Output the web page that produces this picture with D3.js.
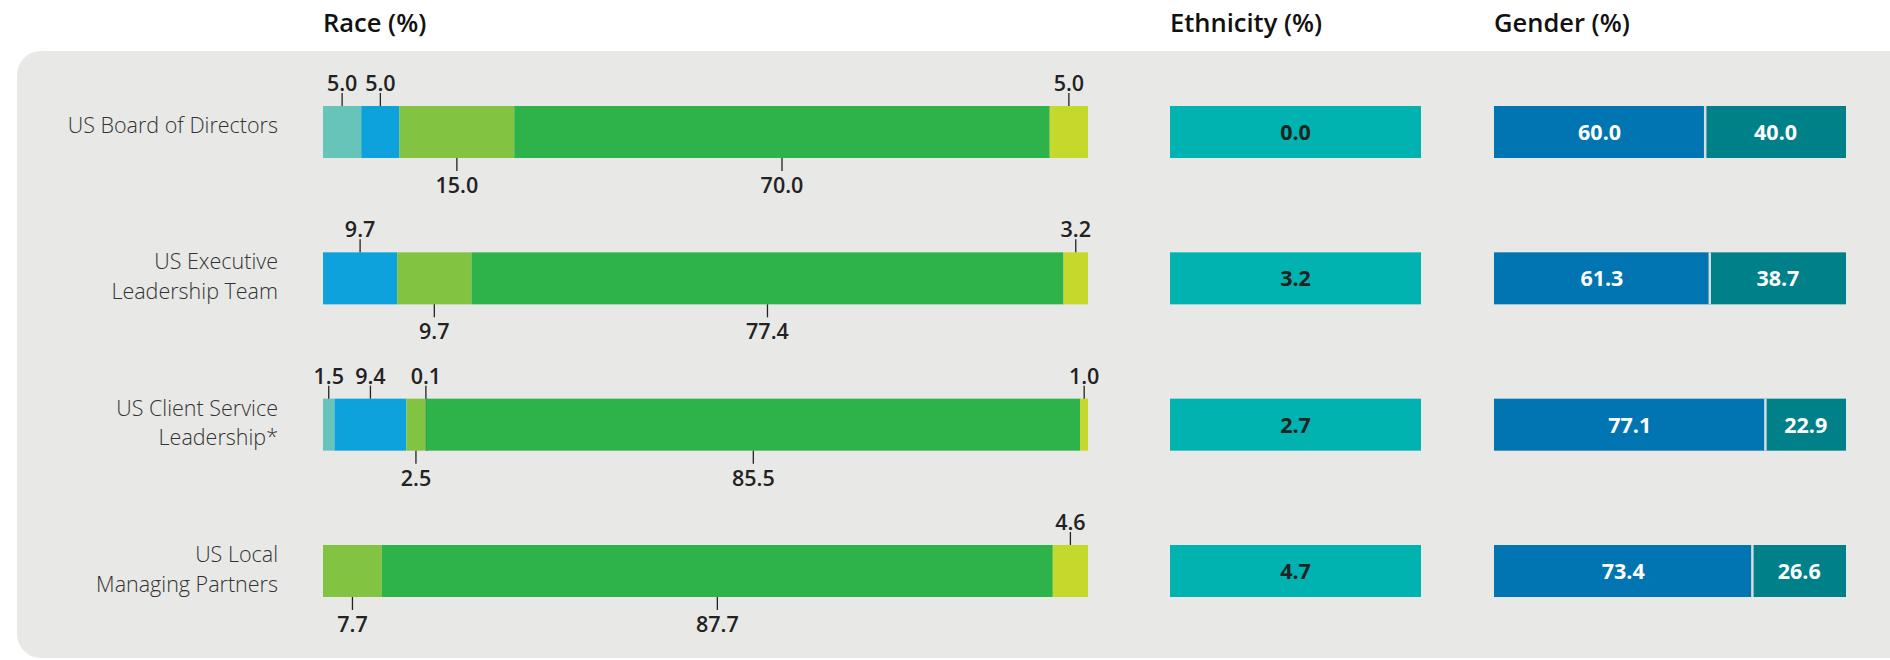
<!DOCTYPE html>
<html>
<head>
<meta charset="utf-8">
<script src="https://cdn.jsdelivr.net/npm/d3@7/dist/d3.min.js"></script>
<style>
  html, body { margin: 0; padding: 0; background: #ffffff; }
  svg { display: block; font-family: "Open Sans", "Noto Sans", sans-serif; }
</style>
</head>
<body>
<svg id="chart" width="1890" height="660"></svg>
<script>
// ---- Data ----
const groups = [
  ["US Board of Directors"],
  ["US Executive", "Leadership Team"],
  ["US Client Service", "Leadership*"],
  ["US Local", "Managing Partners"]
];
const raceCategories = ["teal", "blue", "lightGreen", "darkGreen", "green", "yellow"];
const raceTeal      = [5.0, 0.0, 1.5, 0.0];
const raceBlue      = [5.0, 9.7, 9.4, 0.0];
const raceLightGreen= [15.0, 9.7, 2.5, 7.7];
const raceDarkGreen = [0.0, 0.0, 0.1, 0.0];
const raceGreen     = [70.0, 77.4, 85.5, 87.7];
const raceYellow    = [5.0, 3.2, 1.0, 4.6];
const ethnicity     = [0.0, 3.2, 2.7, 4.7];
const genderA       = [60.0, 61.3, 77.1, 73.4];
const genderB       = [40.0, 38.7, 22.9, 26.6];
const panelTitles   = ["Race (%)", "Ethnicity (%)", "Gender (%)"];

// ---- Styles ----
const raceColors = {
  teal: "#66c5b8", blue: "#0ea2dc", lightGreen: "#82c341",
  darkGreen: "#26923e", green: "#2eb34b", yellow: "#c5d92d"
};
const labelAbove = { teal: true, blue: true, darkGreen: true, yellow: true, lightGreen: false, green: false };
const ethColor = "#00b3b0";
const genColors = ["#0075b2", "#008089"];

const svg = d3.select("#chart");
const fmt = d3.format(".1f");

// background panel (rounded left corners, extends past right edge)
svg.append("rect")
  .attr("x", 17).attr("y", 51).attr("width", 1960).attr("height", 607)
  .attr("rx", 24).attr("ry", 24)
  .attr("fill", "#e8e8e6");

// scales
const y = d3.scalePoint().domain(d3.range(groups.length)).range([132, 571]);
const barH = 52;
const xRace = d3.scaleLinear().domain([0, 100]).range([323, 1088]);
const xEth0 = 1170, xEth1 = 1421;
const xGen = d3.scaleLinear().domain([0, 100]).range([1494, 1846]);

// titles
const titleX = [xRace(0), xEth0, xGen(0)];
svg.selectAll("text.title").data(panelTitles).join("text")
  .attr("class", "title")
  .attr("x", (d, i) => titleX[i]).attr("y", 32)
  .attr("font-size", 25.5).attr("font-weight", 600).attr("fill", "#111")
  .text(d => d);

// category labels
groups.forEach((lines, i) => {
  const cy = y(i);
  const t = svg.append("text")
    .attr("text-anchor", "end").attr("font-size", 21.5).attr("font-weight", 300)
    .attr("fill", "#333");
  if (lines.length === 1) {
    t.append("tspan").attr("x", 278).attr("y", cy + 1).text(lines[0]);
  } else {
    lines.forEach((l, k) => {
      t.append("tspan").attr("x", 278).attr("y", cy - 9 + k * 29.5).text(l);
    });
  }
});

// race stacked bars
const raceSeries = {
  teal: raceTeal, blue: raceBlue, lightGreen: raceLightGreen,
  darkGreen: raceDarkGreen, green: raceGreen, yellow: raceYellow
};
const table = groups.map((g, i) => {
  const row = { idx: i };
  raceCategories.forEach(c => row[c] = raceSeries[c][i]);
  return row;
});
const stack = d3.stack().keys(raceCategories)(table);

stack.forEach(layer => {
  const key = layer.key;
  layer.forEach((seg, i) => {
    const v = seg[1] - seg[0];
    if (v <= 0) return;
    const top = y(i) - barH / 2, bot = y(i) + barH / 2;
    const x0 = xRace(seg[0]), x1 = xRace(seg[1]);
    svg.append("rect")
      .attr("x", x0).attr("y", top)
      .attr("width", Math.max(x1 - x0, 2.5)).attr("height", barH)
      .attr("fill", raceColors[key]);
    const cx = (x0 + x1) / 2;
    const above = labelAbove[key];
    svg.append("line")
      .attr("x1", cx).attr("x2", cx)
      .attr("y1", above ? top - 13 : bot).attr("y2", above ? top : bot + 13)
      .attr("stroke", "#222").attr("stroke-width", 1.3);
    svg.append("text")
      .attr("x", cx).attr("y", above ? top - 15 : bot + 35)
      .attr("text-anchor", "middle").attr("font-size", 21.5).attr("font-weight", 600)
      .attr("fill", "#222")
      .text(fmt(v));
  });
});

// ethnicity boxes
svg.selectAll("rect.eth").data(ethnicity).join("rect")
  .attr("class", "eth")
  .attr("x", xEth0).attr("y", (d, i) => y(i) - barH / 2)
  .attr("width", xEth1 - xEth0).attr("height", barH)
  .attr("fill", ethColor);
svg.selectAll("text.eth").data(ethnicity).join("text")
  .attr("class", "eth")
  .attr("x", (xEth0 + xEth1) / 2).attr("y", (d, i) => y(i) + 8)
  .attr("text-anchor", "middle").attr("font-size", 21.5).attr("font-weight", 700)
  .attr("fill", "#222")
  .text(d => fmt(d));

// gender bars
groups.forEach((g, i) => {
  const top = y(i) - barH / 2;
  const a = genderA[i], b = genderB[i];
  svg.append("rect").attr("x", xGen(0)).attr("y", top)
    .attr("width", xGen(a) - xGen(0)).attr("height", barH).attr("fill", genColors[0]);
  svg.append("rect").attr("x", xGen(a)).attr("y", top)
    .attr("width", xGen(a + b) - xGen(a)).attr("height", barH).attr("fill", genColors[1]);
  svg.append("line").attr("x1", xGen(a)).attr("x2", xGen(a))
    .attr("y1", top).attr("y2", top + barH)
    .attr("stroke", "#d6dcdc").attr("stroke-width", 2.5);
  svg.append("text").attr("x", (xGen(0) + xGen(a)) / 2).attr("y", y(i) + 8)
    .attr("text-anchor", "middle").attr("font-size", 21.5).attr("font-weight", 700)
    .attr("fill", "#fff").text(fmt(a));
  svg.append("text").attr("x", (xGen(a) + xGen(a + b)) / 2).attr("y", y(i) + 8)
    .attr("text-anchor", "middle").attr("font-size", 21.5).attr("font-weight", 700)
    .attr("fill", "#fff").text(fmt(b));
});
</script>
</body>
</html>
